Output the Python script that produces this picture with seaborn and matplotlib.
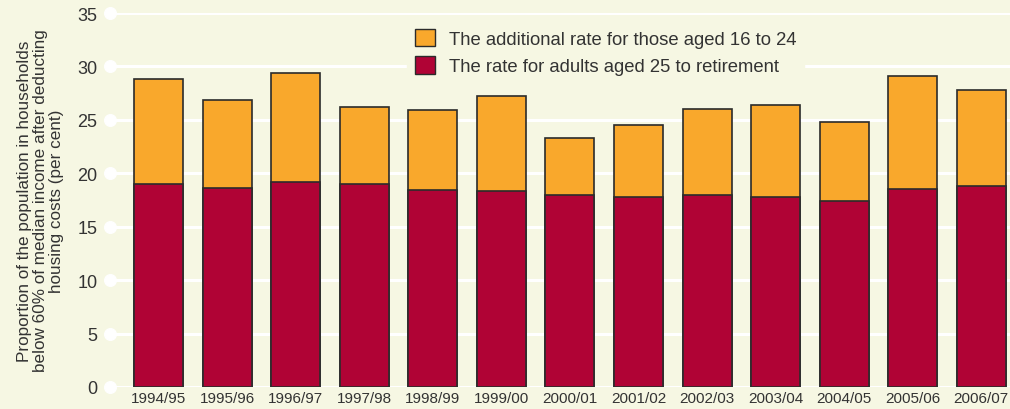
import matplotlib
matplotlib.use("Agg")
import matplotlib.pyplot as plt
import matplotlib.patches as mpatches
import seaborn as sns
import pandas as pd
import numpy as np

years = ["1994/95", "1995/96", "1996/97", "1997/98", "1998/99", "1999/00", "2000/01",
         "2001/02", "2002/03", "2003/04", "2004/05", "2005/06", "2006/07"]
rate_25_to_retirement = [19.0, 18.6, 19.2, 19.0, 18.4, 18.3, 18.0, 17.8, 18.0, 17.8, 17.4, 18.5, 18.8]
additional_16_to_24 = [9.8, 8.3, 10.2, 7.2, 7.5, 8.9, 5.3, 6.7, 8.0, 8.6, 7.4, 10.6, 9.0]
y_ticks = [0, 5, 10, 15, 20, 25, 30, 35]

BG = "#F6F7E3"
ORANGE = "#F9A82C"
CRIMSON = "#B00335"
EDGE = "#2b2b2b"
TEXT = "#333333"

sns.set_style("white")
plt.rcParams["font.family"] = ["Liberation Sans", "DejaVu Sans"]

df = pd.DataFrame({
    "year": years,
    "base": rate_25_to_retirement,
    "extra": additional_16_to_24,
})
df["total"] = df["base"] + df["extra"]

fig = plt.figure(figsize=(10.1, 4.1), dpi=100, facecolor=BG)
ax = fig.add_axes([0.109, 0.0537, 0.891, 0.912])
ax.set_facecolor(BG)

# grid lines with round ends at the left
for t in y_ticks:
    ax.axhline(t, color="white", lw=2.2, zorder=0)
ax.scatter([-0.71] * len(y_ticks), y_ticks, s=70, color="white", zorder=1, clip_on=False)

sns.barplot(data=df, x="year", y="total", color=ORANGE, width=0.715,
            edgecolor=EDGE, linewidth=1.2, saturation=1, ax=ax, zorder=2)
sns.barplot(data=df, x="year", y="base", color=CRIMSON, width=0.715,
            edgecolor=EDGE, linewidth=1.2, saturation=1, ax=ax, zorder=3)

ax.set_xlim(-0.71, 12.42)
ax.set_ylim(0, 35)
ax.set_yticks(y_ticks)
ax.set_yticklabels([str(t) for t in y_ticks], fontsize=13, color=TEXT)
ax.tick_params(axis="y", length=0, pad=9)
ax.tick_params(axis="x", length=0, pad=3)
for lbl in ax.get_xticklabels():
    lbl.set_fontfamily(["Liberation Sans Narrow", "Liberation Sans", "DejaVu Sans"])
    lbl.set_fontsize(11)
    lbl.set_color(TEXT)
ax.set_xlabel("")
ax.set_ylabel("Proportion of the population in households\nbelow 60% of median income after deducting\nhousing costs (per cent)",
              fontsize=12.3, color=TEXT, linespacing=1.05, labelpad=10)
for s in ax.spines.values():
    s.set_visible(False)

handles = [mpatches.Patch(facecolor=ORANGE, edgecolor=EDGE, linewidth=1.0),
           mpatches.Patch(facecolor=CRIMSON, edgecolor=EDGE, linewidth=1.0)]
labels = ["The additional rate for those aged 16 to 24",
          "The rate for adults aged 25 to retirement"]
leg = fig.legend(handles, labels, loc="upper left", bbox_to_anchor=(0.394, 0.968),
                 frameon=True, facecolor=BG, edgecolor=BG, framealpha=1,
                 fontsize=13.3, handlelength=1.1, handleheight=1.1, handletextpad=0.75,
                 labelspacing=0.45, borderpad=0.4)
for t in leg.get_texts():
    t.set_color(TEXT)

fig.savefig("out.png", dpi=100, facecolor=BG)
